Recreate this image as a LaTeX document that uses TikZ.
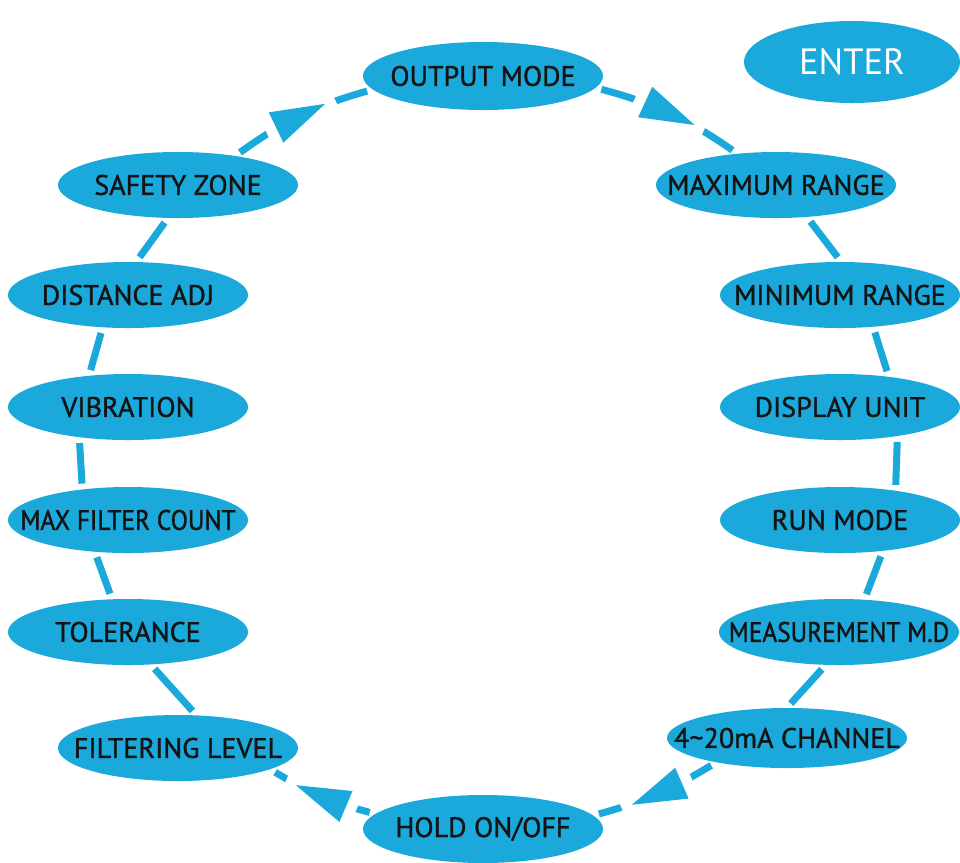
\documentclass[tikz,border=0pt]{standalone}
\usepackage{fontspec}
\setmainfont{PT Sans}
\newfontfamily\menufont{PT Sans}[FakeBold=1.2]
\newfontfamily\menunarrow{PT Sans}[FakeBold=1.2, FakeStretch=0.9]
\usetikzlibrary{shapes.geometric,decorations.markings}
\definecolor{panelblue}{RGB}{27,168,218}
\definecolor{labelink}{RGB}{20,20,20}

\tikzset{
    menunode/.style = {ellipse, fill=panelblue, inner sep=0pt, minimum width=6cm, minimum height=1.65cm,
        text=labelink, font=\fontsize{20}{24}\menufont,
        execute at begin node={\hbox to 0pt\bgroup\hss}, execute at end node={\hss\egroup}},
    narrownode/.style = {menunode, font=\fontsize{20}{24}\menunarrow},
    keynode/.style = {menunode, minimum width=5.4cm, minimum height=2.05cm, text=white, font=\fontsize{26}{31}\selectfont},
    link/.style = {draw=panelblue, line width=5pt, shorten <=4pt, shorten >=4pt},
    flow/.style = {link, postaction={decorate}, decoration={markings, mark=at position 0.5 with {
        \fill[white] (-0.95cm,-0.17cm) rectangle (0.95cm,0.17cm);
        \fill[panelblue] (0.68cm,0pt) -- (-0.68cm,0.42cm) -- (-0.68cm,-0.42cm) -- cycle;}}}
}

\begin{document}
\begin{tikzpicture}[x=0.025cm, y=-0.025cm]
    \useasboundingbox (0,0) rectangle (960,862);
    \node[keynode] at (852,62) (enter) {ENTER};
    \node[menunode, minimum height=1.7cm] at (483,76) (output) {OUTPUT MODE};
    \node[menunode] at (178,185) (safety) {SAFETY ZONE};
    \node[menunode] at (776,185) (maxr) {MAXIMUM RANGE};
    \node[menunode] at (128,295) (dist) {DISTANCE ADJ};
    \node[menunode] at (840,295) (minr) {MINIMUM RANGE};
    \node[menunode] at (128,407) (vib) {VIBRATION};
    \node[menunode] at (840,407) (disp) {DISPLAY UNIT};
    \node[narrownode] at (128,520) (maxf) {MAX FILTER COUNT};
    \node[menunode] at (840,520) (run) {RUN MODE};
    \node[menunode] at (128,632) (tol) {TOLERANCE};
    \node[narrownode] at (839,632) (meas) {MEASUREMENT M.D};
    \node[menunode] at (178,748) (filt) {FILTERING LEVEL};
    \node[menunode, minimum height=1.5cm] at (787,738) (chan) {4\textasciitilde20mA CHANNEL};
    \node[menunode, minimum height=1.7cm] at (483,829) (hold) {HOLD ON/OFF};
    \path (output.354) edge [flow, bend left=10] (maxr.141);
    \path (maxr.314) edge [link] (minr.88);
    \path (minr.316) edge [link] (disp.32);
    \path (disp.333) edge [link] (run.28);
    \path (run.324) edge [link] (meas.52);
    \path (meas.248) edge [link] (chan.90);
    \path (chan.199) edge [flow, bend left=8] (hold.7);
    \path (hold.172) edge [flow, bend left=8] (filt.347);
    \path (filt.61) edge [link] (tol.305);
    \path (tol.116) edge [link] (maxf.224);
    \path (maxf.146) edge [link] (vib.212);
    \path (vib.141) edge [link] (dist.232);
    \path (dist.76) edge [link] (safety.253);
    \path (safety.27) edge [flow, bend left=10] (output.187);
\end{tikzpicture}
\end{document}
